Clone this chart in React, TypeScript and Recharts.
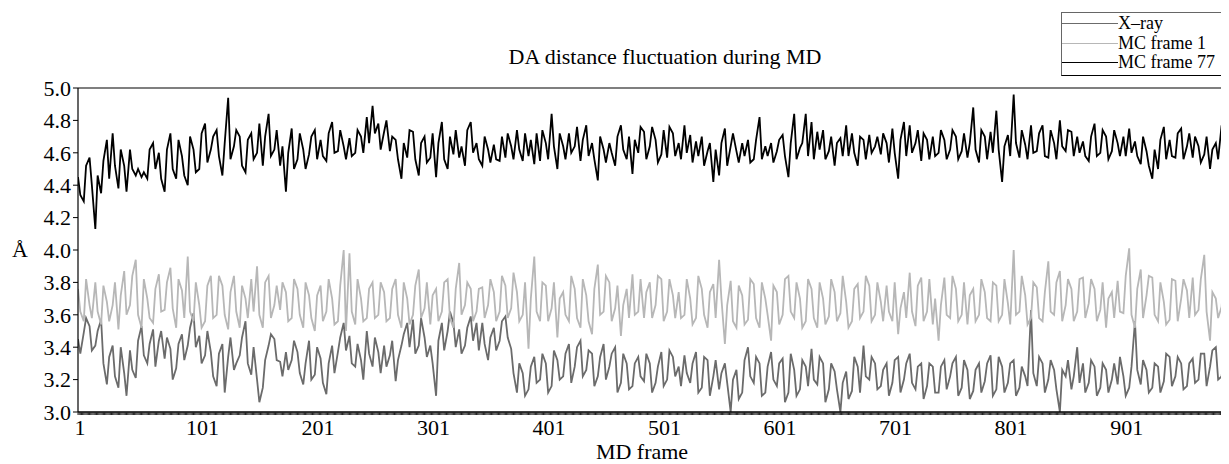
import { LineChart, Line, XAxis, YAxis, ReferenceLine } from 'recharts';

// values read every 5 MD frames (frames 1, 6, 11, ...) plus an in-between reading (frames 3, 8, 13, ...)
const FRAME_STEP = 5;
const MID_OFFSET = 2;

const xrayValues = [
    3.45, 3.49, 3.53, 3.41, 3.57, 3.17, 3.41, 3.15, 3.24, 3.38, 3.21, 3.53, 3.30, 3.51, 3.44, 3.33, 3.39, 3.27, 3.48, 3.41,
    3.61, 3.47, 3.35, 3.37, 3.16, 3.42, 3.34, 3.26, 3.35, 3.56, 3.23, 3.20, 3.15, 3.41, 3.45,
    3.31, 3.37, 3.32, 3.37, 3.17, 3.44, 3.23, 3.33, 3.11, 3.41, 3.37, 3.55, 3.47, 3.28, 3.32, 3.50, 3.28, 3.37, 3.41, 3.35,
    3.19, 3.41, 3.55, 3.57, 3.41, 3.46, 3.41, 3.10, 3.55, 3.50, 3.55, 3.51, 3.41, 3.59, 3.55,
    3.55, 3.32, 3.52, 3.44, 3.59, 3.39, 3.12, 3.24, 3.14, 3.34, 3.20, 3.30, 3.16, 3.32, 3.22, 3.42, 3.28, 3.44, 3.26, 3.36,
    3.22, 3.42, 3.28, 3.40, 3.18, 3.30, 3.16, 3.34, 3.19, 3.30, 3.18, 3.37, 3.20, 3.34,
    3.28, 3.35, 3.18, 3.37, 3.15, 3.32, 3.22, 3.14, 3.30, 3.00, 3.26, 3.12, 3.40, 3.18, 3.30, 3.12, 3.37, 3.16, 3.33, 3.12,
    3.26, 3.14, 3.28, 3.39, 3.17, 3.30, 3.14, 3.25, 3.00, 3.25, 3.13, 3.28, 3.41, 3.20, 3.30,
    3.16, 3.30, 3.18, 3.34, 3.20, 3.36, 3.14, 3.30, 3.16, 3.28, 3.12, 3.32, 3.22, 3.34, 3.15, 3.26, 3.13, 3.30, 3.19, 3.35,
    3.14, 3.28, 3.18, 3.32, 3.15, 3.22, 3.63, 3.16, 3.30, 3.20, 3.26, 3.00, 3.22, 3.14, 3.40,
    3.30, 3.18, 3.28, 3.15, 3.26, 3.20, 3.17, 3.22, 3.15, 3.56, 3.17, 3.26, 3.15, 3.28, 3.19, 3.34, 3.22, 3.30, 3.16, 3.33,
    3.20, 3.36, 3.28, 3.40, 3.22, 3.38,
];
const xrayMid = [
    3.36, 3.58, 3.38, 3.50, 3.30, 3.34, 3.22, 3.40, 3.10, 3.26, 3.44, 3.35, 3.42, 3.28, 3.50, 3.46, 3.20, 3.42, 3.32, 3.52,
    3.40, 3.30, 3.50, 3.22, 3.36, 3.12, 3.46, 3.30, 3.46, 3.30, 3.40, 3.06, 3.32, 3.48, 3.32,
    3.22, 3.26, 3.44, 3.24, 3.30, 3.20, 3.40, 3.18, 3.30, 3.24, 3.46, 3.38, 3.30, 3.42, 3.20, 3.36, 3.46, 3.24, 3.28, 3.44,
    3.32, 3.48, 3.40, 3.36, 3.58, 3.34, 3.30, 3.44, 3.38, 3.62, 3.40, 3.36, 3.52, 3.44, 3.38,
    3.42, 3.46, 3.38, 3.56, 3.46, 3.24, 3.30, 3.10, 3.28, 3.18, 3.36, 3.12, 3.38, 3.20, 3.36, 3.18, 3.40, 3.22, 3.38, 3.16,
    3.34, 3.20, 3.36, 3.12, 3.36, 3.14, 3.30, 3.22, 3.36, 3.12, 3.28, 3.16, 3.38, 3.22,
    3.16, 3.24, 3.30, 3.12, 3.34, 3.10, 3.32, 3.24, 3.18, 3.20, 3.08, 3.32, 3.22, 3.34, 3.10, 3.28, 3.20, 3.30, 3.06, 3.36,
    3.10, 3.32, 3.16, 3.20, 3.34, 3.06, 3.30, 3.14, 3.18, 3.08, 3.34, 3.12, 3.22, 3.34, 3.14,
    3.26, 3.10, 3.32, 3.12, 3.30, 3.18, 3.28, 3.08, 3.30, 3.12, 3.28, 3.14, 3.30, 3.10, 3.32, 3.08, 3.26, 3.12, 3.30, 3.10,
    3.34, 3.12, 3.30, 3.10, 3.28, 3.16, 3.24, 3.34, 3.12, 3.32, 3.14, 3.26, 3.32, 3.22, 3.18,
    3.12, 3.32, 3.10, 3.30, 3.12, 3.30, 3.34, 3.10, 3.28, 3.26, 3.32, 3.12, 3.30, 3.12, 3.36, 3.16, 3.34, 3.14, 3.30, 3.18,
    3.36, 3.16, 3.38, 3.20, 3.36, 3.24,
];

const mcFrame1Values = [
    3.76, 3.56, 3.66, 3.80, 3.54, 3.68, 3.66, 3.51, 3.87, 3.66, 3.94, 3.52, 3.70, 3.55, 3.85, 3.63, 3.89, 3.52, 3.75, 3.96,
    3.56, 3.66, 3.56, 3.84, 3.60, 3.78, 3.51, 3.84, 3.52, 3.70, 3.82, 3.90, 3.52, 3.84, 3.66,
    3.63, 3.74, 3.58, 3.76, 3.52, 3.72, 3.50, 3.78, 3.62, 3.70, 3.56, 4.00, 3.98, 3.54, 3.70, 3.58, 3.80, 3.60, 3.74, 3.58,
    3.82, 3.52, 3.70, 3.60, 3.88, 3.64, 3.54, 3.76, 3.62, 3.82, 3.52, 3.92, 3.66, 3.76, 3.62,
    3.77, 3.66, 3.74, 3.62, 3.78, 3.64, 3.74, 3.60, 3.39, 3.96, 3.56, 3.78, 3.64, 3.46, 3.74, 3.56, 3.76, 3.52, 3.72, 3.48,
    3.91, 3.62, 3.80, 3.64, 3.47, 3.76, 3.85, 3.62, 3.58, 3.80, 3.66, 3.82, 3.62, 3.72,
    3.74, 3.60, 3.70, 3.58, 3.76, 3.52, 3.79, 3.94, 3.42, 3.81, 3.52, 3.72, 3.57, 3.79, 3.52, 3.70, 3.44, 3.74, 3.60, 3.84,
    3.58, 3.70, 3.56, 3.76, 3.52, 3.70, 3.59, 3.74, 3.61, 3.68, 3.56, 3.79, 3.62, 3.78, 3.60,
    3.68, 3.78, 3.56, 3.48, 3.74, 3.86, 3.53, 3.83, 3.62, 3.54, 3.44, 3.83, 3.58, 3.76, 3.60, 3.54, 3.76, 3.60, 3.74, 3.56,
    3.78, 3.60, 3.67, 4.00, 3.62, 3.72, 3.58, 3.77, 3.56, 3.93, 3.60, 3.87, 3.66, 3.76, 3.62,
    3.83, 3.67, 3.76, 3.63, 3.52, 3.74, 3.81, 3.61, 4.01, 3.52, 3.88, 3.72, 3.83, 3.56, 3.68, 3.57, 3.81, 3.70, 3.75, 3.83,
    3.63, 3.97, 3.44, 3.70, 3.65, 3.76,
];
const mcFrame1Mid = [
    3.62, 3.82, 3.58, 3.62, 3.78, 3.56, 3.80, 3.72, 3.60, 3.84, 3.60, 3.82, 3.58, 3.76, 3.62, 3.80, 3.64, 3.82, 3.58, 3.62,
    3.80, 3.52, 3.78, 3.58, 3.84, 3.60, 3.74, 3.62, 3.78, 3.58, 3.62, 3.60, 3.80, 3.58, 3.78,
    3.80, 3.56, 3.82, 3.60, 3.80, 3.58, 3.72, 3.56, 3.82, 3.54, 3.78, 3.50, 3.62, 3.82, 3.56, 3.76, 3.58, 3.80, 3.56, 3.76,
    3.60, 3.80, 3.54, 3.78, 3.58, 3.80, 3.72, 3.56, 3.80, 3.58, 3.76, 3.60, 3.80, 3.56, 3.76,
    3.58, 3.82, 3.56, 3.84, 3.58, 3.86, 3.56, 3.80, 3.70, 3.62, 3.80, 3.56, 3.80, 3.70, 3.60, 3.84, 3.58, 3.82, 3.56, 3.76,
    3.60, 3.84, 3.56, 3.78, 3.66, 3.58, 3.60, 3.82, 3.74, 3.58, 3.84, 3.56, 3.82, 3.58,
    3.58, 3.82, 3.54, 3.84, 3.60, 3.74, 3.58, 3.70, 3.66, 3.56, 3.78, 3.54, 3.82, 3.58, 3.80, 3.60, 3.78, 3.54, 3.82, 3.62,
    3.80, 3.52, 3.82, 3.58, 3.80, 3.54, 3.82, 3.56, 3.84, 3.52, 3.76, 3.58, 3.84, 3.56, 3.80,
    3.56, 3.62, 3.80, 3.64, 3.58, 3.62, 3.78, 3.56, 3.82, 3.70, 3.66, 3.60, 3.84, 3.56, 3.80, 3.72, 3.56, 3.82, 3.58, 3.80,
    3.56, 3.82, 3.54, 3.60, 3.84, 3.54, 3.80, 3.58, 3.74, 3.62, 3.80, 3.56, 3.82, 3.56, 3.82,
    3.58, 3.82, 3.56, 3.80, 3.70, 3.58, 3.62, 3.84, 3.60, 3.76, 3.58, 3.84, 3.60, 3.80, 3.54, 3.82, 3.56, 3.82, 3.58, 3.60,
    3.82, 3.62, 3.74, 3.58, 3.84, 3.58,
];

const mcFrame77Values = [
    4.45, 4.30, 4.57, 4.13, 4.35, 4.68, 4.72, 4.38, 4.52, 4.62, 4.46, 4.45, 4.44, 4.66, 4.60, 4.36, 4.72, 4.44, 4.58, 4.40,
    4.62, 4.50, 4.78, 4.62, 4.74, 4.46, 4.94, 4.64, 4.70, 4.48, 4.72, 4.60, 4.52, 4.84, 4.62,
    4.52, 4.36, 4.75, 4.56, 4.62, 4.59, 4.74, 4.68, 4.55, 4.79, 4.61, 4.64, 4.69, 4.60, 4.70, 4.82, 4.89, 4.78, 4.73, 4.61,
    4.68, 4.44, 4.57, 4.73, 4.46, 4.70, 4.57, 4.45, 4.79, 4.50, 4.59, 4.57, 4.52, 4.79, 4.66,
    4.52, 4.62, 4.65, 4.55, 4.57, 4.64, 4.74, 4.55, 4.58, 4.53, 4.55, 4.66, 4.84, 4.50, 4.64, 4.72, 4.64, 4.55, 4.77, 4.66,
    4.43, 4.62, 4.66, 4.52, 4.77, 4.56, 4.47, 4.60, 4.73, 4.64, 4.68, 4.59, 4.57, 4.72,
    4.66, 4.77, 4.71, 4.67, 4.70, 4.61, 4.42, 4.46, 4.75, 4.64, 4.61, 4.66, 4.68, 4.56, 4.82, 4.64, 4.66, 4.61, 4.71, 4.45,
    4.84, 4.63, 4.84, 4.79, 4.73, 4.74, 4.61, 4.52, 4.69, 4.77, 4.72, 4.52, 4.68, 4.71, 4.64,
    4.59, 4.66, 4.75, 4.44, 4.79, 4.77, 4.66, 4.55, 4.68, 4.70, 4.60, 4.68, 4.62, 4.70, 4.61, 4.57, 4.88, 4.54, 4.70, 4.73,
    4.86, 4.42, 4.71, 4.96, 4.57, 4.65, 4.77, 4.61, 4.77, 4.57, 4.66, 4.80, 4.61, 4.73, 4.70,
    4.67, 4.55, 4.78, 4.60, 4.70, 4.61, 4.66, 4.70, 4.75, 4.67, 4.53, 4.61, 4.44, 4.50, 4.76, 4.68, 4.57, 4.75, 4.64, 4.57,
    4.64, 4.59, 4.50, 4.66, 4.77, 4.66,
];
const mcFrame77Mid = [
    4.34, 4.52, 4.40, 4.46, 4.55, 4.44, 4.52, 4.62, 4.36, 4.50, 4.50, 4.48, 4.62, 4.50, 4.44, 4.62, 4.50, 4.68, 4.46, 4.70,
    4.48, 4.72, 4.54, 4.70, 4.58, 4.66, 4.56, 4.74, 4.52, 4.68, 4.56, 4.78, 4.70, 4.58, 4.74,
    4.64, 4.60, 4.50, 4.72, 4.50, 4.70, 4.56, 4.58, 4.72, 4.60, 4.74, 4.56, 4.58, 4.74, 4.60, 4.66, 4.72, 4.62, 4.80, 4.70,
    4.56, 4.66, 4.74, 4.56, 4.66, 4.54, 4.72, 4.66, 4.56, 4.70, 4.74, 4.64, 4.74, 4.60, 4.56,
    4.70, 4.54, 4.56, 4.70, 4.72, 4.56, 4.62, 4.72, 4.68, 4.72, 4.74, 4.56, 4.64, 4.72, 4.56, 4.60, 4.76, 4.68, 4.58, 4.56,
    4.70, 4.54, 4.60, 4.70, 4.62, 4.70, 4.68, 4.76, 4.56, 4.76, 4.54, 4.74, 4.76, 4.58,
    4.56, 4.60, 4.54, 4.58, 4.52, 4.66, 4.62, 4.66, 4.52, 4.72, 4.54, 4.58, 4.54, 4.68, 4.56, 4.58, 4.54, 4.68, 4.58, 4.66,
    4.56, 4.66, 4.58, 4.56, 4.62, 4.56, 4.70, 4.66, 4.58, 4.58, 4.60, 4.70, 4.56, 4.60, 4.70,
    4.72, 4.54, 4.60, 4.68, 4.58, 4.60, 4.74, 4.72, 4.56, 4.58, 4.74, 4.56, 4.74, 4.56, 4.72, 4.66, 4.62, 4.74, 4.56, 4.60,
    4.62, 4.64, 4.58, 4.66, 4.74, 4.56, 4.60, 4.72, 4.58, 4.74, 4.56, 4.64, 4.74, 4.58, 4.60,
    4.58, 4.70, 4.58, 4.74, 4.56, 4.74, 4.58, 4.58, 4.60, 4.58, 4.70, 4.52, 4.62, 4.68, 4.56, 4.58, 4.72, 4.56, 4.72, 4.70,
    4.54, 4.70, 4.62, 4.56, 4.60, 4.72,
];

const yTicks = [3.0, 3.2, 3.4, 3.6, 3.8, 4.0, 4.2, 4.4, 4.6, 4.8, 5.0];
const xLabelFrames = [1, 101, 201, 301, 401, 501, 601, 701, 801, 901];

const seriesInfo = [
    { key: 'xray', name: 'X–ray', color: '#6b6b6b' },
    { key: 'mc1', name: 'MC frame 1', color: '#b7b7b7' },
    { key: 'mc77', name: 'MC frame 77', color: '#000000' },
];

const data = xrayValues.flatMap((v, i) => [
    { frame: 1 + i * FRAME_STEP, xray: v, mc1: mcFrame1Values[i], mc77: mcFrame77Values[i] },
    { frame: 1 + i * FRAME_STEP + MID_OFFSET, xray: xrayMid[i], mc1: mcFrame1Mid[i], mc77: mcFrame77Mid[i] },
]);

// one small tick per frame along the bottom axis
const frameTicks = Array.from({ length: 1000 }, (_, i) => i + 1);

const FONT = '"Liberation Serif", "Times New Roman", serif';

function FrameTick(props: any) {
    const { x, y, payload } = props;
    const v = payload.value;
    const shift = v === 1 ? 2 : 9;
    return (
        <g>
            <line x1={x} y1={y} x2={x} y2={y + 3} stroke="#222" strokeWidth={1} />
            {xLabelFrames.includes(v) && (
                <text x={x + shift} y={y + 23} textAnchor="middle" fontSize={22} fontFamily={FONT} fill="#000">
                    {v}
                </text>
            )}
        </g>
    );
}

function App() {
    return (
        <div style={{ position: 'relative', width: 1221, height: 456, overflow: 'hidden', fontFamily: FONT, color: '#000' }}>
            <LineChart width={1224} height={456} data={data} margin={{ top: 80, right: 0, bottom: 0, left: 0 }}>
                <XAxis
                    dataKey="frame"
                    type="number"
                    domain={[1, 1000]}
                    ticks={frameTicks}
                    interval={0}
                    tickLine={false}
                    tickSize={0}
                    tickMargin={0}
                    tick={<FrameTick />}
                    axisLine={{ stroke: '#000', strokeWidth: 1.5 }}
                    height={52}
                    allowDataOverflow
                />
                <YAxis
                    type="number"
                    domain={[3, 5]}
                    ticks={yTicks}
                    interval={0}
                    width={70}
                    tickFormatter={(v: number) => v.toFixed(1)}
                    tick={{ fontSize: 22, fontFamily: FONT, fill: '#000' }}
                    tickSize={5}
                    tickMargin={2}
                    tickLine={{ stroke: '#000' }}
                    axisLine={{ stroke: '#000', strokeWidth: 1.2 }}
                    allowDataOverflow
                />
                <ReferenceLine y={5} stroke="#555" strokeWidth={1.5} />
                {seriesInfo.map((s) => (
                    <Line
                        key={s.key}
                        type="linear"
                        dataKey={s.key}
                        name={s.name}
                        stroke={s.color}
                        strokeWidth={1.8}
                        dot={false}
                        isAnimationActive={false}
                    />
                ))}
            </LineChart>

            <div style={{ position: 'absolute', left: 657, top: 36, transform: 'translateX(-50%)', fontSize: 22, whiteSpace: 'nowrap' }}>
                DA distance fluctuation during MD
            </div>
            <div style={{ position: 'absolute', left: 4, top: 229, fontSize: 22 }}>Å</div>
            <div style={{ position: 'absolute', left: 634, top: 431, transform: 'translateX(-50%)', fontSize: 22, whiteSpace: 'nowrap' }}>
                MD frame
            </div>

            <div
                style={{
                    position: 'absolute',
                    left: 1053,
                    top: 4,
                    width: 200,
                    borderTop: '1.5px solid #666',
                    borderBottom: '1.5px solid #000',
                    borderLeft: '1px solid #666',
                    padding: '1px 0 2px 0',
                }}
            >
                {seriesInfo.map((s) => (
                    <div key={s.key} style={{ display: 'flex', alignItems: 'center', height: 19.5 }}>
                        <div style={{ width: 56, borderTop: `1.5px solid ${s.color}` }} />
                        <span style={{ fontSize: 18, lineHeight: '19px', whiteSpace: 'nowrap' }}>{s.name}</span>
                    </div>
                ))}
            </div>
        </div>
    );
}

export default App;
